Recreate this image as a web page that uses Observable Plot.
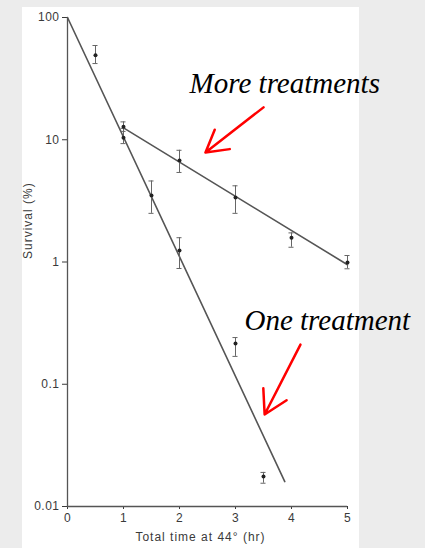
<!DOCTYPE html>
<html>
<head>
<meta charset="utf-8">
<script src="https://cdn.jsdelivr.net/npm/d3@7"></script>
<script src="https://cdn.jsdelivr.net/npm/@observablehq/plot@0.6"></script>
<style>
  html, body { margin: 0; padding: 0; background: #ececec; }
  #wrap { position: relative; width: 425px; height: 548px; overflow: hidden; }
  #panel { position: absolute; left: 22px; top: 7px; width: 337px; height: 541px; background: #ffffff; }
  #chart { position: absolute; left: 0; top: 0; }
</style>
</head>
<body>
<div id="wrap"><div id="panel"></div><div id="chart"></div></div>
<script>
// One treatment: time (hr), survival (%), error bar low/high
const oneX  = [0.5, 1, 1.5, 2, 3, 3.5];
const oneY  = [49, 10.4, 3.5, 1.24, 0.215, 0.0176];
const oneLo = [42, 9.3, 2.5, 0.885, 0.169, 0.0155];
const oneHi = [59, 12.4, 4.6, 1.58, 0.241, 0.019];
// One treatment fitted line endpoints
const oneFitX = [0, 3.88];
const oneFitY = [100, 0.016];

// More treatments
const moreX  = [1, 2, 3, 4, 5];
const moreY  = [12.8, 6.76, 3.37, 1.58, 0.99];
const moreLo = [11.7, 5.4, 2.5, 1.32, 0.88];
const moreHi = [14.0, 8.2, 4.2, 1.73, 1.13];
// More treatments fitted line endpoints
const moreFitX = [1, 5];
const moreFitY = [12.5, 0.95];

// Axis ticks
const xTicks = [0, 1, 2, 3, 4, 5];
const yTicks = [100, 10, 1, 0.1, 0.01];
const yTickLabels = ["100", "10", "1", "0.1", "0.01"];

// Annotations (data coordinates)
const annLabels = ["More treatments", "One treatment"];
const annX = [2.18, 3.16];
const annY = [29.0, 0.334];
const arrowX1 = [3.5, 4.16];
const arrowY1 = [18.4, 0.211];
const arrowX2 = [2.464, 3.52];
const arrowY2 = [7.87, 0.0566];

const xLabel = "Total time at 44° (hr)";
const yLabel = "Survival (%)";

const pts = (xs, ys, lo, hi) => xs.map((x, i) => ({x, y: ys[i], lo: lo[i], hi: hi[i]}));
const onePts = pts(oneX, oneY, oneLo, oneHi);
const morePts = pts(moreX, moreY, moreLo, moreHi);
const allPts = onePts.concat(morePts);
const oneFit = oneFitX.map((x, i) => ({x, y: oneFitY[i]}));
const moreFit = moreFitX.map((x, i) => ({x, y: moreFitY[i]}));
const anns = annLabels.map((t, i) => ({t, x: annX[i], y: annY[i]}));
const arrows = arrowX1.map((x, i) => ({x1: x, y1: arrowY1[i], x2: arrowX2[i], y2: arrowY2[i]}));
const capW = 0.045;

const lineColor = "#555";
const plot = Plot.plot({
  width: 425,
  height: 548,
  marginLeft: 67,
  marginRight: 78,
  marginTop: 17,
  marginBottom: 42,
  style: {background: "transparent", fontFamily: "'Liberation Sans', Arial, sans-serif", fontSize: "12px", color: "#3a3a3a", letterSpacing: "0.5px"},
  x: {domain: [0, 5], ticks: xTicks, tickFormat: d => String(d), tickSize: 3, tickPadding: 4, label: null},
  y: {type: "log", domain: [0.01, 100], ticks: yTicks, tickFormat: d => yTickLabels[yTicks.indexOf(d)] ?? "", tickSize: 5, tickPadding: 3, label: null},
  marks: [
    Plot.ruleX([0], {y1: 0.01, y2: 100, stroke: lineColor, strokeWidth: 1.3}),
    Plot.ruleY([0.01], {x1: 0, x2: 5, stroke: lineColor, strokeWidth: 1.3}),
    Plot.line(oneFit, {x: "x", y: "y", stroke: lineColor, strokeWidth: 1.6}),
    Plot.line(moreFit, {x: "x", y: "y", stroke: lineColor, strokeWidth: 1.6}),
    Plot.ruleX(allPts, {x: "x", y1: "lo", y2: "hi", stroke: "#666", strokeWidth: 1}),
    Plot.ruleY(allPts, {y: "lo", x1: d => d.x - capW, x2: d => d.x + capW, stroke: "#666", strokeWidth: 1}),
    Plot.ruleY(allPts, {y: "hi", x1: d => d.x - capW, x2: d => d.x + capW, stroke: "#666", strokeWidth: 1}),
    Plot.dot(allPts, {x: "x", y: "y", r: 2, fill: "#222", stroke: "none"}),
    Plot.text(anns, {x: "x", y: "y", text: "t", textAnchor: "start", lineAnchor: "middle", fontFamily: "'Liberation Serif', 'Times New Roman', serif", fontStyle: "italic", fontSize: 29, fill: "#000", style: {letterSpacing: "0px"}}),
    Plot.arrow(arrows, {x1: "x1", y1: "y1", x2: "x2", y2: "y2", stroke: "#ff0000", strokeWidth: 2.5, headLength: 17, headAngle: 60}),
    Plot.text([xLabel], {frameAnchor: "bottom", dy: 34, dx: -7, fill: "#3a3a3a", fontSize: 12}),
    Plot.text([yLabel], {frameAnchor: "left", dx: -39, dy: -3, rotate: -90, fill: "#3a3a3a", fontSize: 12})
  ]
});
// keep annotation text without extra letter spacing
plot.querySelectorAll("text").forEach(t => {
  if (annLabels.includes(t.textContent)) t.style.letterSpacing = "0px";
  if (t.textContent === xLabel || t.textContent === yLabel) t.style.letterSpacing = "1px";
});
document.getElementById("chart").appendChild(plot);
</script>
</body>
</html>
